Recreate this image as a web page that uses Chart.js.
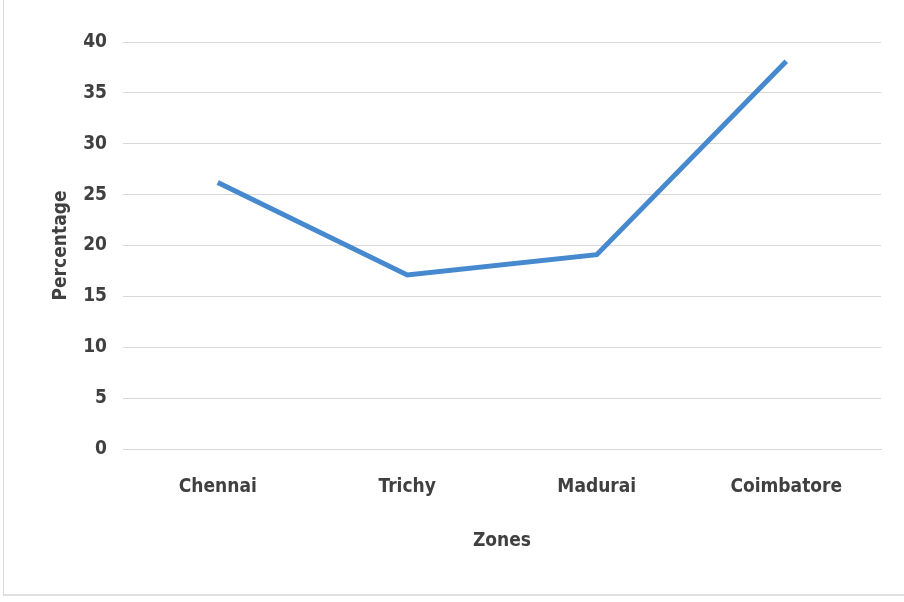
<!DOCTYPE html>
<html>
<head>
<meta charset="utf-8">
<script src="https://cdn.jsdelivr.net/npm/chart.js@4.4.1/dist/chart.umd.min.js"></script>
<style>
  html, body { margin: 0; padding: 0; background: #fff; }
  #wrap { position: relative; width: 904px; height: 602px; }
  #frame { position: absolute; left: 3px; top: -2px; width: 904px; height: 598px;
           border-left: 1px solid #d9d9d9; border-bottom: 2px solid #e0e0e0; box-sizing: border-box; }
  canvas { position: absolute; left: 0; top: 0; }
</style>
</head>
<body>
<div id="wrap">
  <div id="frame"></div>
  <canvas id="chart" width="904" height="602"></canvas>
</div>
<script>
const zones = ['Chennai', 'Trichy', 'Madurai', 'Coimbatore'];
const percentages = [26.2, 17.1, 19.1, 38.1];
const yTicks = [0, 5, 10, 15, 20, 25, 30, 35, 40];

const FONT = "'Liberation Sans Narrow', 'DejaVu Sans Condensed', 'Roboto', sans-serif";
const TEXT_COLOR = '#404040';

const ctx = document.getElementById('chart').getContext('2d');
new Chart(ctx, {
  type: 'line',
  data: {
    labels: zones,
    datasets: [{
      data: percentages,
      borderColor: '#4689cf',
      borderWidth: 5,
      pointRadius: 0,
      tension: 0,
      fill: false
    }]
  },
  options: {
    responsive: false,
    animation: false,
    layout: { padding: { top: 42, right: 23, bottom: 50, left: 50 } },
    plugins: {
      legend: { display: false },
      tooltip: { enabled: false }
    },
    scales: {
      x: {
        offset: true,
        grid: { display: false, drawTicks: false },
        border: { display: true, color: '#d9d9d9', width: 1 },
        ticks: {
          color: TEXT_COLOR,
          padding: 27,
          font: { family: FONT, size: 19, weight: 'bold' }
        },
        title: {
          display: true,
          text: 'Zones',
          color: TEXT_COLOR,
          padding: { top: 26, bottom: 0 },
          font: { family: FONT, size: 19, weight: 'bold' }
        },
        afterFit: (scale) => { scale.height = 103; }
      },
      y: {
        min: 0,
        max: 40,
        afterBuildTicks: (scale) => { scale.ticks = yTicks.map(v => ({ value: v })); },
        grid: { color: '#d9d9d9', lineWidth: 1, drawTicks: false },
        border: { display: false },
        ticks: {
          color: TEXT_COLOR,
          padding: 16,
          font: { family: FONT, size: 19, weight: 'bold' }
        },
        title: {
          display: true,
          text: 'Percentage',
          color: TEXT_COLOR,
          padding: { top: 0, bottom: 26 },
          font: { family: FONT, size: 19, weight: 'bold' }
        },
        afterFit: (scale) => { scale.width = 73; }
      }
    }
  }
});
</script>
</body>
</html>
